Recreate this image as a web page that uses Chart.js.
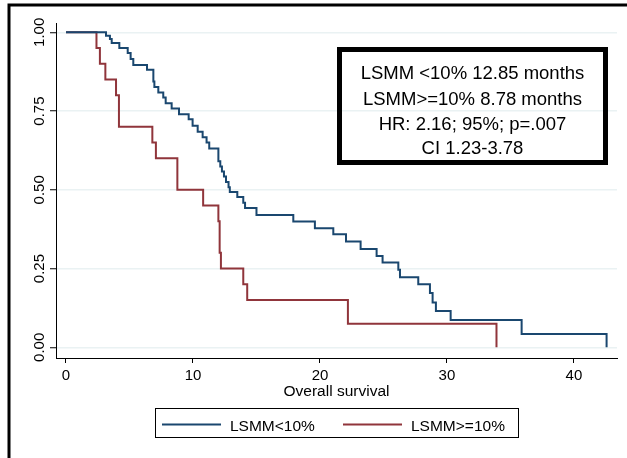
<!DOCTYPE html>
<html>
<head>
<meta charset="utf-8">
<script src="https://cdn.jsdelivr.net/npm/chart.js@4.4.0/dist/chart.umd.min.js"></script>
<style>
  body { margin: 0; background: #fff; }
  #wrap { width: 627px; height: 458px; }
</style>
</head>
<body>
<div id="wrap"><canvas id="km" width="627" height="458"></canvas></div>
<script>
const seriesNames = ['LSMM<10%', 'LSMM>=10%'];

// LSMM<10% (blue), step times and survival after each step
const lowTimes = [0, 3.15, 3.46, 3.6, 4.2, 4.86, 5.09, 5.3, 6.38, 6.88, 6.96, 7.27, 7.66, 7.85, 8.32, 8.9,
  9.66, 9.97, 10.37, 10.76, 11.07, 11.28, 12.0, 12.15, 12.28, 12.44, 12.6, 12.8, 12.9, 13.49, 13.96, 14.1,
  15.0, 17.9, 19.6, 21.05, 22.05, 23.2, 24.46, 24.93, 26.17, 26.3, 27.74, 28.66, 28.87, 29.13, 30.29, 35.88, 42.57];
const lowSurv = [1, 0.989, 0.979, 0.966, 0.950, 0.934, 0.915, 0.896, 0.881, 0.844, 0.826, 0.809, 0.793, 0.775, 0.758, 0.740,
  0.724, 0.703, 0.684, 0.667, 0.650, 0.631, 0.591, 0.574, 0.558, 0.542, 0.525, 0.508, 0.493, 0.477, 0.459, 0.442,
  0.420, 0.399, 0.378, 0.359, 0.336, 0.312, 0.290, 0.269, 0.246, 0.222, 0.200, 0.172, 0.142, 0.115, 0.087, 0.042, 0];

// LSMM>=10% (red)
const highTimes = [0, 2.4, 2.67, 3.1, 3.94, 4.17, 6.8, 7.08, 8.77, 10.8, 12.0, 12.1, 12.2, 13.96, 14.27, 22.2, 33.9];
const highSurv = [1, 0.95, 0.90, 0.85, 0.80, 0.70, 0.65, 0.60, 0.50, 0.45, 0.40, 0.30, 0.25, 0.20, 0.15, 0.075, 0];

const xTicks = [0, 10, 20, 30, 40];
const yTicks = [0, 0.25, 0.5, 0.75, 1];
const xTitle = 'Overall survival';
const boxLines = ['LSMM <10% 12.85 months', 'LSMM>=10% 8.78 months', 'HR: 2.16; 95%; p=.007', 'CI 1.23-3.78'];

const FONT = '"Liberation Sans", Arial, Helvetica, sans-serif';
const BLUE = '#1a476f';
const RED = '#90353b';

const toPoints = (t, s) => t.map((x, i) => ({ x: x, y: s[i] }));

// rotated y labels + frame + text box + legend, drawn on top
const extras = {
  id: 'extras',
  afterDraw(chart) {
    const ctx = chart.ctx;
    const y = chart.scales.y;
    ctx.save();

    // y tick labels, rotated like stata
    ctx.font = '15px ' + FONT;
    ctx.fillStyle = '#000';
    ctx.textAlign = 'center';
    ctx.textBaseline = 'alphabetic';
    yTicks.forEach(v => {
      ctx.save();
      ctx.translate(44, y.getPixelForValue(v));
      ctx.rotate(-Math.PI / 2);
      ctx.fillText(v.toFixed(2), 0, 0);
      ctx.restore();
    });

    // outer frame (only left + top show)
    ctx.strokeStyle = '#000';
    ctx.lineWidth = 3;
    ctx.beginPath();
    ctx.moveTo(9, 458);
    ctx.lineTo(9, 5);
    ctx.lineTo(627, 5);
    ctx.stroke();

    // median / HR box
    ctx.lineWidth = 5;
    ctx.strokeRect(339.5, 49.5, 266, 113);
    ctx.font = '18.5px ' + FONT;
    ctx.textAlign = 'center';
    const base = [79, 104.5, 129.5, 154];
    boxLines.forEach((s, i) => ctx.fillText(s, 472.5, base[i]));

    // legend
    ctx.lineWidth = 1;
    ctx.strokeRect(155.5, 408.5, 363, 29);
    const ds = chart.data.datasets;
    const sx = [162, 343];
    ctx.font = '15.5px ' + FONT;
    ctx.textAlign = 'left';
    ds.forEach((d, i) => {
      ctx.strokeStyle = d.borderColor;
      ctx.lineWidth = 2;
      ctx.beginPath();
      ctx.moveTo(sx[i], 424.5);
      ctx.lineTo(sx[i] + 59, 424.5);
      ctx.stroke();
      ctx.fillStyle = '#000';
      ctx.fillText(d.label, sx[i] + 68, 430.5);
    });
    ctx.restore();
  }
};

new Chart(document.getElementById('km'), {
  type: 'line',
  data: {
    datasets: [
      { label: seriesNames[0], data: toPoints(lowTimes, lowSurv), borderColor: BLUE, borderWidth: 2,
        stepped: true, pointRadius: 0, fill: false },
      { label: seriesNames[1], data: toPoints(highTimes, highSurv), borderColor: RED, borderWidth: 2,
        stepped: true, pointRadius: 0, fill: false }
    ]
  },
  options: {
    responsive: false,
    animation: false,
    devicePixelRatio: 1,
    layout: { padding: { left: 0, right: 10, top: 23, bottom: 0 } },
    plugins: { legend: { display: false }, tooltip: { enabled: false } },
    scales: {
      x: {
        type: 'linear',
        min: -0.787,
        max: 43.39,
        afterBuildTicks: s => { s.ticks = xTicks.map(v => ({ value: v })); },
        afterFit: s => { s.height = 100; },
        grid: { drawOnChartArea: false, tickLength: 5, tickColor: '#000', lineWidth: 1 },
        border: { color: '#000', width: 1 },
        ticks: { font: { family: FONT, size: 15 }, color: '#000', padding: 4, maxRotation: 0 },
        title: { display: true, text: xTitle, color: '#000', font: { family: FONT, size: 15.5 },
          padding: { top: 0, bottom: 57 } }
      },
      y: {
        min: -0.034,
        max: 1.0295,
        afterBuildTicks: s => { s.ticks = yTicks.map(v => ({ value: v })); },
        afterFit: s => { s.width = 56; },
        grid: { color: '#eaf2f3', lineWidth: 1.5, tickColor: '#000', tickWidth: 1, tickLength: 6 },
        border: { color: '#000', width: 1 },
        ticks: { display: false }
      }
    }
  },
  plugins: [extras]
});
</script>
</body>
</html>
